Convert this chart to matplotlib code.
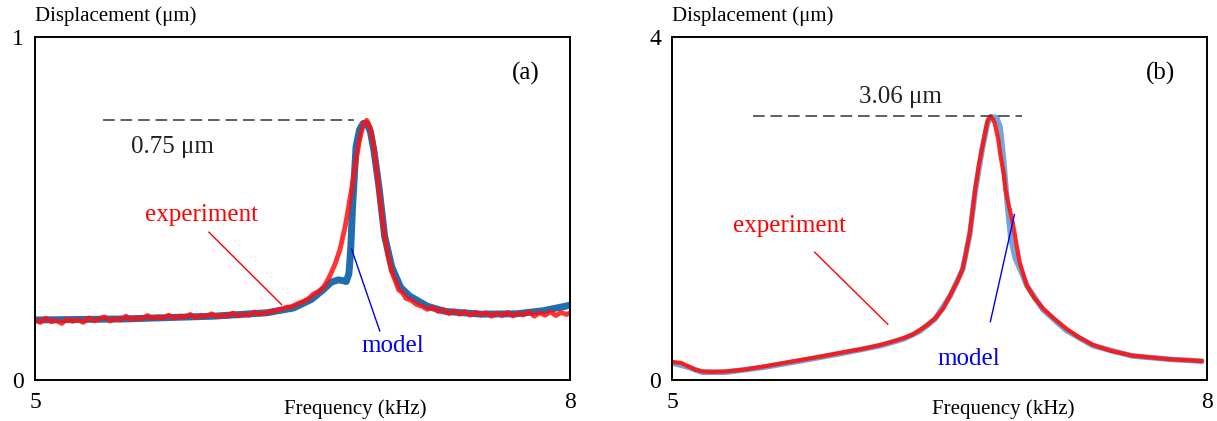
import numpy as np
import matplotlib
matplotlib.use("Agg")
import matplotlib.pyplot as plt

plt.rcParams['font.family'] = ['Liberation Serif', 'DejaVu Serif']

# panel (a) values (kHz, um)
freq_a_exp = [5.00, 5.03, 5.06, 5.09, 5.12, 5.15, 5.18, 5.21, 5.24, 5.27, 5.30, 5.33, 5.36, 5.39,
              5.42, 5.45, 5.48, 5.51, 5.54, 5.57, 5.60, 5.63, 5.66, 5.69, 5.72, 5.75, 5.78, 5.81,
              5.84, 5.87, 5.90, 5.93, 5.96, 5.99, 6.02, 6.05, 6.08, 6.11, 6.14, 6.17, 6.20, 6.23,
              6.26, 6.29, 6.32, 6.35, 6.38, 6.41, 6.44, 6.47, 6.50, 6.53, 6.56, 6.59, 6.62, 6.65,
              6.68, 6.71, 6.74, 6.77, 6.80, 6.82, 6.84, 6.86, 6.88, 6.90, 6.92, 6.94, 6.96, 6.98,
              7.00, 7.02, 7.04, 7.06, 7.08, 7.11, 7.14, 7.17, 7.20, 7.23, 7.26, 7.29, 7.32, 7.35,
              7.38, 7.41, 7.44, 7.47, 7.50, 7.53, 7.56, 7.59, 7.62, 7.65, 7.68, 7.71, 7.74, 7.77,
              7.80, 7.83, 7.86, 7.89, 7.92, 7.95, 7.98, 8.00]
disp_a_exp = [0.176, 0.168, 0.180, 0.170, 0.174, 0.165, 0.178, 0.171, 0.176, 0.168, 0.181, 0.173, 0.178, 0.184,
              0.172, 0.179, 0.175, 0.186, 0.176, 0.181, 0.178, 0.188, 0.179, 0.184, 0.180, 0.189, 0.181, 0.186,
              0.183, 0.191, 0.182, 0.188, 0.185, 0.193, 0.184, 0.189, 0.186, 0.195, 0.187, 0.192, 0.189, 0.198,
              0.192, 0.196, 0.199, 0.203, 0.206, 0.212, 0.214, 0.222, 0.228, 0.236, 0.250, 0.258, 0.272, 0.300,
              0.335, 0.380, 0.450, 0.540, 0.640, 0.700, 0.745, 0.757, 0.735, 0.680, 0.590, 0.500, 0.420, 0.360,
              0.315, 0.290, 0.262, 0.255, 0.238, 0.232, 0.220, 0.215, 0.206, 0.212, 0.200, 0.205, 0.194, 0.201,
              0.192, 0.199, 0.189, 0.197, 0.190, 0.196, 0.186, 0.195, 0.188, 0.197, 0.187, 0.194, 0.190, 0.199,
              0.186, 0.196, 0.189, 0.199, 0.188, 0.197, 0.191, 0.196]

freq_a_mod = [5.00, 5.50, 6.00, 6.30, 6.45, 6.55, 6.62, 6.66, 6.70, 6.725, 6.745, 6.76, 6.77,
              6.78, 6.80, 6.82, 6.84, 6.86, 6.88, 6.90, 6.93, 6.96, 7.00, 7.05, 7.10, 7.20,
              7.30, 7.50, 7.70, 7.85, 8.00]
disp_a_mod = [0.175, 0.178, 0.186, 0.196, 0.210, 0.235, 0.265, 0.285, 0.292, 0.290, 0.287, 0.310, 0.380,
              0.500, 0.680, 0.730, 0.748, 0.748, 0.725, 0.670, 0.557, 0.420, 0.330, 0.270, 0.245, 0.215,
              0.200, 0.192, 0.193, 0.202, 0.218]

# panel (b) values
freq_b_exp = [5.00, 5.05, 5.09, 5.13, 5.17, 5.23, 5.30, 5.40, 5.52, 5.63, 5.74, 5.85, 5.95, 6.06,
              6.17, 6.24, 6.30, 6.35, 6.39, 6.43, 6.475, 6.52, 6.56, 6.60, 6.63, 6.65, 6.67,
              6.70, 6.72, 6.74, 6.76, 6.77, 6.785, 6.80, 6.81, 6.83, 6.84, 6.86, 6.87, 6.89,
              6.91, 6.93, 6.95, 6.99, 7.03, 7.08, 7.14, 7.21, 7.28, 7.36, 7.46, 7.58, 7.70,
              7.80, 7.90, 7.97]
disp_b_exp = [0.21, 0.20, 0.16, 0.12, 0.10, 0.095, 0.10, 0.12, 0.16, 0.20, 0.24, 0.28, 0.32, 0.36,
              0.41, 0.45, 0.49, 0.53, 0.585, 0.64, 0.72, 0.83, 0.99, 1.15, 1.30, 1.50, 1.72,
              2.22, 2.50, 2.72, 2.93, 3.03, 3.076, 3.04, 2.99, 2.80, 2.64, 2.40, 2.22, 2.02,
              1.84, 1.60, 1.37, 1.10, 0.96, 0.835, 0.72, 0.60, 0.50, 0.41, 0.34, 0.285, 0.26,
              0.24, 0.23, 0.22]

freq_b_mod = [5.00, 5.09, 5.17, 5.30, 5.52, 5.74, 5.95, 6.17, 6.30, 6.39, 6.475, 6.56, 6.63,
              6.67, 6.70, 6.74, 6.77, 6.79, 6.82, 6.84, 6.86, 6.88, 6.90, 6.925, 6.95, 6.99,
              7.08, 7.21, 7.36, 7.58, 7.80, 7.97]
disp_b_mod = [0.20, 0.15, 0.09, 0.09, 0.15, 0.23, 0.31, 0.40, 0.48, 0.57, 0.71, 0.98, 1.29,
              1.70, 2.20, 2.70, 3.00, 3.07, 3.06, 2.95, 2.55, 2.05, 1.65, 1.42, 1.30, 1.10,
              0.82, 0.58, 0.40, 0.28, 0.24, 0.22]

peak_a = 0.757
peak_b = 3.076

fig = plt.figure(figsize=(12.17, 4.21), dpi=100)
ax1 = fig.add_axes([0.0288, 0.0974, 0.4396, 0.8147])
ax2 = fig.add_axes([0.5522, 0.0974, 0.4396, 0.8147])


def style(ax, ytop, xlab_pos):
    ax.set_xlim(5, 8)
    ax.set_ylim(0, ytop)
    ax.set_xticks([5, 8])
    ax.set_yticks([0, ytop])
    ax.set_xticklabels(['5', '8'])
    ax.set_yticklabels(['0', str(ytop)])
    ax.tick_params(length=0, labelsize=17)
    ax.tick_params(axis='x', pad=9)
    ax.tick_params(axis='y', pad=8)
    for s in ax.spines.values():
        s.set_linewidth(1.4)
    ax.text(xlab_pos, -0.085, 'Frequency (kHz)', transform=ax.transAxes,
            ha='center', va='center', fontsize=15)
    ax.text(0.0, 1.06, 'Displacement (\u03bcm)', transform=ax.transAxes,
            ha='left', va='center', fontsize=15)


# (a)
ax1.plot(freq_a_mod, disp_a_mod, color='#1f6fb0', lw=5, solid_capstyle='round')
ax1.plot(freq_a_exp, disp_a_exp, color='#ff1010', lw=3.5, alpha=0.85)
ax1.plot([5.381, 6.789], [peak_a, peak_a], color='#444444', lw=1.2, dashes=(7, 3.5))
ax1.text(5.771, 0.68, '0.75 \u03bcm', ha='center', va='center', fontsize=18, color='#222222')
ax1.text(7.754, 0.894, '(a)', ha='center', va='center', fontsize=18)
ax1.text(5.936, 0.48, 'experiment', ha='center', va='center', fontsize=18, color='#ff0000')
ax1.plot([5.975, 6.382], [0.431, 0.22], color='#ff0000', lw=1)
ax1.text(7.004, 0.10, 'model', ha='center', va='center', fontsize=18, color='#0000ee')
ax1.plot([6.774, 6.933], [0.383, 0.143], color='#0000ee', lw=1)
style(ax1, 1, 0.598)

# (b)
ax2.plot(freq_b_mod, disp_b_mod, color='#4f8fd0', lw=4, alpha=0.8, solid_capstyle='round')
ax2.plot(freq_b_exp, disp_b_exp, color='#ff1010', lw=3, alpha=0.9)
ax2.plot([5.455, 6.963], [peak_b, peak_b], color='#444444', lw=1.2, dashes=(7, 3.5))
ax2.text(6.28, 3.30, '3.06 \u03bcm', ha='center', va='center', fontsize=18, color='#222222')
ax2.text(7.74, 3.57, '(b)', ha='center', va='center', fontsize=18)
ax2.text(5.66, 1.80, 'experiment', ha='center', va='center', fontsize=18, color='#ff0000')
ax2.plot([5.80, 6.21], [1.49, 0.65], color='#ff0000', lw=1)
ax2.text(6.666, 0.25, 'model', ha='center', va='center', fontsize=18, color='#0000ee')
ax2.plot([6.785, 6.92], [0.68, 1.93], color='#0000ee', lw=1)
style(ax2, 4, 0.619)

fig.savefig('out.png', dpi=100)
